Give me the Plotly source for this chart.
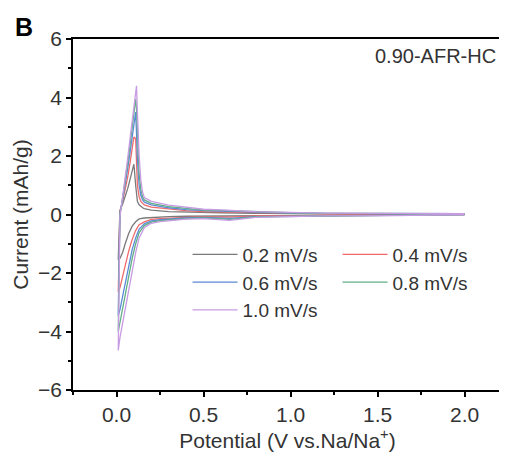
import plotly.graph_objects as go

# scan rates (legend labels)
rates = ["0.2 mV/s", "0.4 mV/s", "0.6 mV/s", "0.8 mV/s", "1.0 mV/s"]
colors = ["#7a7a7a", "#f06a6a", "#5b8ad6", "#5fae86", "#c89be3"]

# potential grids (V vs Na/Na+)
cath_v = [2.0, 1.6, 1.2, 1.0, 0.8, 0.65, 0.5, 0.4, 0.3, 0.25, 0.2, 0.16, 0.13,
          0.11, 0.09, 0.07, 0.05, 0.035, 0.02, 0.01]
anod_v = [0.01, 0.015, 0.02, 0.035, 0.05, 0.065, 0.08, 0.09, 0.1, 0.11, 0.115,
          0.12, 0.13, 0.14, 0.15, 0.16, 0.2, 0.3, 0.4, 0.5, 0.6, 0.8, 1.0, 1.2,
          1.6, 2.0]

# current (mAh/g), cathodic sweep then anodic sweep, per scan rate
cath_02 = [0.0, -0.01, -0.02, -0.02, -0.03, -0.05, -0.05, -0.06, -0.07, -0.08,
           -0.1, -0.12, -0.15, -0.25, -0.4, -0.65, -1.0, -1.3, -1.5, -1.55]
anod_02 = [-1.55, -0.6, 0.15, 0.35, 0.6, 0.9, 1.25, 1.5, 1.72, 1.0, 0.6, 0.45,
           0.33, 0.27, 0.23, 0.2, 0.15, 0.1, 0.08, 0.07, 0.06, 0.04, 0.03, 0.02,
           0.02, 0.02]
cath_04 = [0.0, -0.02, -0.03, -0.04, -0.05, -0.09, -0.08, -0.1, -0.12, -0.14,
           -0.17, -0.25, -0.35, -0.55, -0.85, -1.25, -1.75, -2.15, -2.5, -2.65]
anod_04 = [-2.65, -1.0, 0.1, 0.45, 0.85, 1.3, 1.85, 2.2, 2.65, 2.6, 1.6, 1.0,
           0.6, 0.45, 0.38, 0.33, 0.25, 0.18, 0.13, 0.1, 0.09, 0.06, 0.04, 0.03,
           0.03, 0.03]
cath_06 = [0.0, -0.03, -0.04, -0.05, -0.07, -0.13, -0.1, -0.12, -0.15, -0.18,
           -0.22, -0.32, -0.5, -0.8, -1.2, -1.75, -2.35, -2.8, -3.25, -3.45]
anod_06 = [-3.45, -1.4, 0.05, 0.5, 1.0, 1.6, 2.2, 2.65, 3.1, 3.5, 2.8, 1.9,
           1.0, 0.65, 0.5, 0.42, 0.33, 0.23, 0.17, 0.13, 0.12, 0.08, 0.05, 0.04,
           0.03, 0.03]
cath_08 = [0.0, -0.03, -0.05, -0.06, -0.08, -0.17, -0.12, -0.14, -0.17, -0.21,
           -0.26, -0.38, -0.62, -1.0, -1.5, -2.1, -2.75, -3.25, -3.7, -4.0]
anod_08 = [-4.0, -1.7, 0.0, 0.55, 1.1, 1.8, 2.5, 3.0, 3.5, 3.95, 3.6, 2.6,
           1.4, 0.85, 0.6, 0.5, 0.38, 0.27, 0.2, 0.15, 0.14, 0.09, 0.06, 0.04,
           0.04, 0.03]
cath_10 = [0.0, -0.04, -0.05, -0.07, -0.1, -0.2, -0.14, -0.16, -0.2, -0.24,
           -0.3, -0.45, -0.8, -1.3, -1.95, -2.6, -3.2, -3.7, -4.2, -4.65]
anod_10 = [-4.65, -2.0, -0.05, 0.6, 1.2, 1.95, 2.7, 3.25, 3.75, 4.2, 4.4, 3.5,
           2.0, 1.15, 0.75, 0.58, 0.45, 0.32, 0.24, 0.18, 0.16, 0.1, 0.07, 0.05,
           0.04, 0.03]

cath = [cath_02, cath_04, cath_06, cath_08, cath_10]
anod = [anod_02, anod_04, anod_06, anod_08, anod_10]

fig = go.Figure()
for name, col, c, a in zip(rates, colors, cath, anod):
    fig.add_trace(go.Scatter(
        x=cath_v + anod_v, y=c + a, mode="lines", name=name,
        line=dict(color=col, width=1.3),
    ))

txt = "#333333"
tickfont = dict(family="Liberation Sans, Arial", size=21, color=txt)

# the page body adds an 8px margin, so the figure is 8px smaller than the window
fig.update_layout(
    width=499, height=452,
    margin=dict(l=65, r=5, t=31, b=70),
    paper_bgcolor="white", plot_bgcolor="white",
    font=dict(family="Liberation Sans, Arial", size=21, color=txt),
    showlegend=True,
    legend=dict(
        orientation="h", x=0.267, y=0.44, xanchor="left", yanchor="top",
        entrywidth=90, entrywidthmode="pixels", itemwidth=45,
        font=dict(size=19, color=txt), bgcolor="rgba(0,0,0,0)",
    ),
    xaxis=dict(
        range=[-0.25, 2.215], tickvals=[0, 0.5, 1.0, 1.5, 2.0],
        ticktext=["0.0", "0.5", "1.0", "1.5", "2.0"],
        ticks="outside", ticklen=5, tickwidth=1.5, tickcolor="black",
        minor=dict(tickvals=[-0.25, 0.25, 0.75, 1.25, 1.75], ticks="outside",
                   ticklen=3, tickcolor="black"),
        showline=True, linecolor="black", linewidth=1.5, mirror=True,
        showgrid=False, zeroline=False, tickfont=tickfont,
        title=dict(text="Potential (V vs.Na/Na<sup>+</sup>)", standoff=6,
                   font=dict(size=21, color=txt)),
    ),
    yaxis=dict(
        range=[-6, 6], tickvals=[-6, -4, -2, 0, 2, 4, 6],
        ticks="outside", ticklen=5, tickwidth=1.5, tickcolor="black",
        minor=dict(tickvals=[-5, -3, -1, 1, 3, 5], ticks="outside",
                   ticklen=3, tickcolor="black"),
        showline=True, linecolor="black", linewidth=1.5, mirror=False,
        showgrid=False, zeroline=False, tickfont=tickfont,
        title=dict(text="Current (mAh/g)", standoff=4,
                   font=dict(size=21, color=txt)),
    ),
    shapes=[dict(type="line", xref="paper", yref="paper", x0=1, x1=1, y0=0, y1=1,
                 line=dict(color="#cccccc", width=1))],
    annotations=[
        dict(text="0.90-AFR-HC", xref="paper", yref="paper", x=0.99, y=0.99,
             xanchor="right", yanchor="top", showarrow=False,
             font=dict(size=20, color=txt)),
        dict(text="<b>B</b>", xref="paper", yref="paper", x=-0.14, y=1.08,
             xanchor="left", yanchor="top", showarrow=False,
             font=dict(size=25, color="black")),
    ],
)

fig.write_html("out.html")
